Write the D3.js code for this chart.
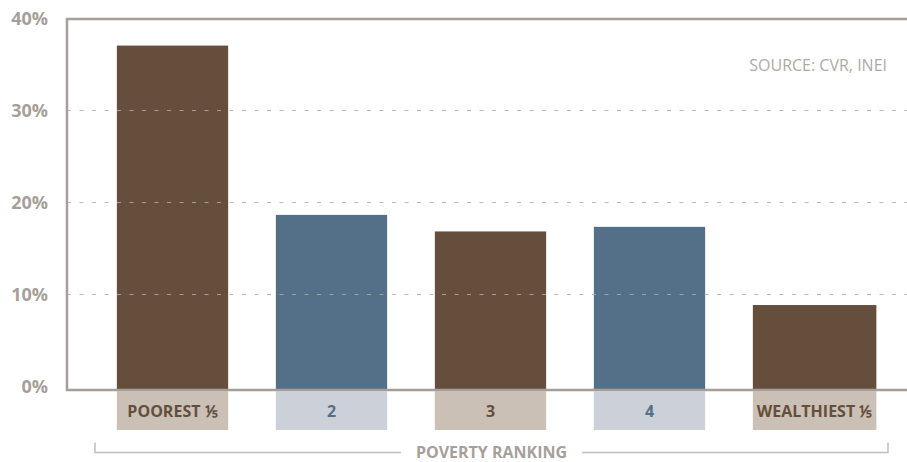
<!DOCTYPE html>
<html>
<head>
<meta charset="utf-8">
<script src="https://cdn.jsdelivr.net/npm/d3@7"></script>
<style>
  body { margin: 0; background: #fff; }
  svg { display: block; font-family: "Open Sans", sans-serif; }
</style>
</head>
<body>
<div id="chart"></div>
<script>
// data
const categories = ["POOREST \u2155", "2", "3", "4", "WEALTHIEST \u2155"];
const values = [37.0, 18.6, 16.8, 17.3, 8.8];
const yTicks = [0, 10, 20, 30, 40];
const sourceText = "SOURCE: CVR, INEI";
const axisTitle = "POVERTY RANKING";

const width = 907, height = 462;
const frameLeft = 67, frameTop = 19, baseline = 390;

const dark = ["#654f3c", "#537088"];
const light = ["#cac0b6", "#cbd0d9"];
const grey = "#a69f99";

const svg = d3.select("#chart").append("svg")
    .attr("width", width)
    .attr("height", height);

const x = d3.scaleBand()
    .domain(categories)
    .range([93, 888])
    .paddingInner(0.3)
    .paddingOuter(0.15);

const y = d3.scaleLinear()
    .domain([0, 40])
    .range([386, 18]);

// label widths decide box width (last one is wider than the band)
const measure = svg.append("text")
    .attr("font-size", 16).attr("font-weight", 700);
const boxW = categories.map(c => {
    measure.text(c);
    return Math.max(x.bandwidth(), measure.node().getComputedTextLength() + 8);
});
measure.remove();

// bars
svg.append("g").selectAll("rect")
    .data(values)
    .join("rect")
    .attr("x", (d, i) => x(categories[i]))
    .attr("y", d => y(d))
    .attr("width", (d, i) => boxW[i])
    .attr("height", d => baseline - y(d))
    .attr("fill", (d, i) => dark[i % 2]);

// dashed gridlines on top of the bars
svg.append("g").selectAll("line")
    .data(yTicks.filter(t => t > 0 && t < 40))
    .join("line")
    .attr("x1", frameLeft).attr("x2", width)
    .attr("y1", d => Math.round(y(d)) + 0.5)
    .attr("y2", d => Math.round(y(d)) + 0.5)
    .attr("stroke", "#b3aca6")
    .attr("stroke-opacity", 0.85)
    .attr("stroke-dasharray", "4,8.5");

// frame
svg.append("path")
    .attr("d", `M${width},${frameTop} H${frameLeft} V${baseline} H${width}`)
    .attr("fill", "none")
    .attr("stroke", grey)
    .attr("stroke-width", 2.5);

// y labels
svg.append("g").selectAll("text")
    .data(yTicks)
    .join("text")
    .attr("x", 48)
    .attr("y", d => y(d) + 6.5)
    .attr("text-anchor", "end")
    .attr("font-size", 18)
    .attr("font-weight", 700)
    .attr("fill", grey)
    .text(d => d + "%");

// category label boxes
const lab = svg.append("g").selectAll("g")
    .data(categories)
    .join("g")
    .attr("transform", d => `translate(${x(d)},${baseline + 1})`);

lab.append("rect")
    .attr("width", (d, i) => boxW[i])
    .attr("height", 39)
    .attr("fill", (d, i) => light[i % 2]);

lab.append("text")
    .attr("x", (d, i) => boxW[i] / 2)
    .attr("y", 25.5)
    .attr("text-anchor", "middle")
    .attr("font-size", 16)
    .attr("font-weight", 700)
    .attr("fill", (d, i) => dark[i % 2])
    .text(d => d);

// source note
svg.append("text")
    .attr("x", 887)
    .attr("y", 71)
    .attr("text-anchor", "end")
    .attr("font-size", 16)
    .attr("fill", "#b0a9a3")
    .text(sourceText);

// bracket with axis title
const bx0 = x.range()[0] + 2, bx1 = x.range()[1], by = 452.5;
const cx = (bx0 + bx1) / 2;
const title = svg.append("text")
    .attr("x", cx)
    .attr("y", 457.5)
    .attr("text-anchor", "middle")
    .attr("font-size", 16)
    .attr("font-weight", 700)
    .attr("fill", grey)
    .text(axisTitle);
const tw = title.node().getComputedTextLength();

svg.append("path")
    .attr("d", `M${bx0},${by - 10} V${by} H${cx - tw / 2 - 15} M${cx + tw / 2 + 15},${by} H${bx1} V${by - 10}`)
    .attr("fill", "none")
    .attr("stroke", "#c4bdb7")
    .attr("stroke-width", 1.5);
</script>
</body>
</html>
